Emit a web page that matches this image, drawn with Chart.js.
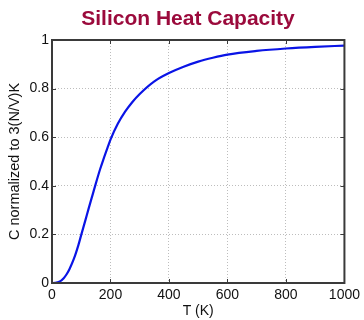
<!DOCTYPE html>
<html>
<head>
<meta charset="utf-8">
<script src="https://cdn.jsdelivr.net/npm/chart.js@4.4.1/dist/chart.umd.min.js"></script>
<style>
  html, body { margin: 0; padding: 0; background: #ffffff; }
  #wrap { width: 364px; height: 320px; position: relative; }
</style>
</head>
<body>
<div id="wrap"><canvas id="heatChart" width="364" height="320"></canvas></div>
<script>
// Values
const temperaturesK = [0, 10, 25, 40, 50, 60, 75, 90, 100, 115, 125, 140, 150, 165, 175, 190, 200, 225, 250, 275, 300, 350, 400, 450, 500, 550, 600, 700, 800, 900, 1000];
const heatCapacity = [0, 0.0005, 0.005, 0.02, 0.036, 0.058, 0.1, 0.155, 0.198, 0.262, 0.305, 0.368, 0.41, 0.47, 0.506, 0.557, 0.59, 0.655, 0.705, 0.745, 0.778, 0.83, 0.864, 0.89, 0.911, 0.927, 0.94, 0.955, 0.965, 0.972, 0.977];
const xTicks = [0, 200, 400, 600, 800, 1000];
const yTicks = [0, 0.2, 0.4, 0.6, 0.8, 1];
const chartTitle = 'Silicon Heat Capacity';

const fontFamily = "'Liberation Sans', Arial, sans-serif";

// title + box around the plot + little inward tick marks (matlab look)
const boxPlugin = {
    id: 'boxPlugin',
    afterDraw(chart) {
        const ctx = chart.ctx;
        const area = chart.chartArea;
        const xs = chart.scales.x;
        const ys = chart.scales.y;
        const tickLen = 4;
        ctx.save();

        ctx.fillStyle = '#9b0a3c';
        ctx.font = 'bold 21px ' + fontFamily;
        ctx.textAlign = 'center';
        ctx.textBaseline = 'alphabetic';
        ctx.fillText(chartTitle, 188, 25);

        ctx.strokeStyle = '#3a3a3a';
        ctx.lineWidth = 1;
        xTicks.forEach(v => {
            const px = Math.round(xs.getPixelForValue(v)) + 0.5;
            ctx.beginPath();
            ctx.moveTo(px, area.bottom);
            ctx.lineTo(px, area.bottom - tickLen);
            ctx.moveTo(px, area.top);
            ctx.lineTo(px, area.top + tickLen);
            ctx.stroke();
        });
        yTicks.forEach(v => {
            const py = Math.round(ys.getPixelForValue(v)) + 0.5;
            ctx.beginPath();
            ctx.moveTo(area.left, py);
            ctx.lineTo(area.left + tickLen, py);
            ctx.moveTo(area.right, py);
            ctx.lineTo(area.right - tickLen, py);
            ctx.stroke();
        });
        ctx.lineWidth = 2;
        ctx.strokeRect(area.left, area.top, area.right - area.left, area.bottom - area.top);
        ctx.restore();
    }
};

function createChart() {
    const ctx = document.getElementById('heatChart').getContext('2d');
    const points = temperaturesK.map((t, i) => ({ x: t, y: heatCapacity[i] }));

    return new Chart(ctx, {
        type: 'line',
        data: {
            datasets: [{
                data: points,
                borderColor: '#0a14e6',
                borderWidth: 2.2,
                pointRadius: 0,
                fill: false,
                cubicInterpolationMode: 'monotone'
            }]
        },
        options: {
            responsive: false,
            animation: false,
            layout: { padding: { left: 0, right: 18, top: 40, bottom: 0 } },
            scales: {
                x: {
                    type: 'linear',
                    min: 0,
                    max: 1000,
                    afterFit: scale => { scale.height = 37; },
                    afterBuildTicks: scale => { scale.ticks = xTicks.map(v => ({ value: v })); },
                    border: { display: false, dash: [1, 2] },
                    grid: { color: '#bdbdbd', lineWidth: 1, drawTicks: false },
                    ticks: { color: '#111', font: { family: fontFamily, size: 14 }, padding: 4, maxRotation: 0, callback: v => String(v) },
                    title: { display: true, text: 'T (K)', color: '#111', font: { family: fontFamily, size: 14 }, padding: { top: 2, bottom: 0 } }
                },
                y: {
                    min: 0,
                    max: 1,
                    afterFit: scale => { scale.width = 52; },
                    afterBuildTicks: scale => { scale.ticks = yTicks.map(v => ({ value: v })); },
                    border: { display: false, dash: [1, 2] },
                    grid: { color: '#bdbdbd', lineWidth: 1, drawTicks: false },
                    ticks: { color: '#111', font: { family: fontFamily, size: 14 }, padding: 3, callback: v => String(v) },
                    title: { display: true, text: 'C normalized to 3(N/V)K', color: '#111', font: { family: fontFamily, size: 14.5 }, padding: { top: 6, bottom: 0 } }
                }
            },
            plugins: {
                legend: { display: false },
                tooltip: { enabled: false },
                title: { display: false }
            }
        },
        plugins: [boxPlugin]
    });
}

createChart();
</script>
</body>
</html>
